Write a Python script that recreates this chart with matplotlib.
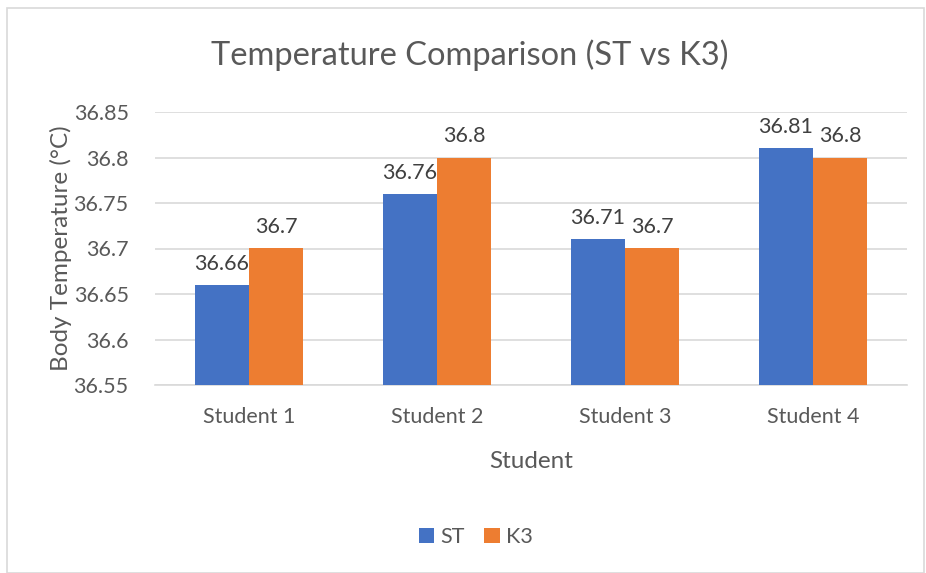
import matplotlib
matplotlib.use("Agg")
import matplotlib.pyplot as plt
from matplotlib.patches import Rectangle
import numpy as np

plt.rcParams['font.family'] = ['Lato', 'DejaVu Sans']

categories = ["Student 1", "Student 2", "Student 3", "Student 4"]
st_values = [36.66, 36.76, 36.71, 36.81]
k3_values = [36.7, 36.8, 36.7, 36.8]
st_labels = ["36.66", "36.76", "36.71", "36.81"]
k3_labels = ["36.7", "36.8", "36.7", "36.8"]
yticks = [36.55, 36.6, 36.65, 36.7, 36.75, 36.8, 36.85]
ytick_labels = ["36.55", "36.6", "36.65", "36.7", "36.75", "36.8", "36.85"]

W, H = 926, 573
fig = plt.figure(figsize=(W/100, H/100), dpi=100)
fig.patch.set_facecolor("white")
fig.patches.append(Rectangle((7/W, 0), (W-9)/W, (H-8)/H, transform=fig.transFigure,
                             fill=False, edgecolor="#d9d9d9", linewidth=1.2))

ax = fig.add_axes([155/W, (H-385)/H, (907-155)/W, (385-112)/H])
x = np.arange(len(categories))
bw = 0.287
base = 36.55
blue = "#4472C4"
orange = "#ED7D31"
b1 = ax.bar(x - bw/2, np.array(st_values) - base, bw, bottom=base, color=blue, label="ST", zorder=3)
b2 = ax.bar(x + bw/2, np.array(k3_values) - base, bw, bottom=base, color=orange, label="K3", zorder=3)

for xi, v, lab in zip(x, st_values, st_labels):
    ax.annotate(lab, (xi - bw/2, v), xytext=(0, 8), textcoords="offset points",
                ha="center", va="bottom", fontsize=15.5, color="#404040")
for xi, v, lab in zip(x, k3_values, k3_labels):
    ax.annotate(lab, (xi + bw/2, v), xytext=(0, 8), textcoords="offset points",
                ha="center", va="bottom", fontsize=15.5, color="#404040")

ax.set_xlim(-0.5, 3.5)
ax.set_ylim(36.55, 36.85)
ax.set_yticks(yticks)
ax.set_yticklabels(ytick_labels)
ax.set_xticks(x)
ax.set_xticklabels(categories)
ax.tick_params(axis='both', length=0, labelsize=15.5, labelcolor="#595959")
ax.tick_params(axis='x', pad=16)
ax.tick_params(axis='y', pad=19)
ax.grid(axis='y', color="#d9d9d9", linewidth=1.2, zorder=0)
for s in ["top", "right", "left"]:
    ax.spines[s].set_visible(False)
ax.spines["bottom"].set_color("#d9d9d9")
ax.spines["bottom"].set_linewidth(1.2)

ax.set_xlabel("Student", fontsize=17.5, color="#595959", labelpad=17)
ax.set_ylabel("Body Temperature (°C)", fontsize=17.5, color="#595959", labelpad=1)

fig.text(470/W, (H-55)/H, "Temperature Comparison (ST vs K3)", ha="center", va="center",
         fontsize=23.5, color="#595959")

leg = fig.legend(handles=[b1, b2], labels=["ST", "K3"], loc="center", bbox_to_anchor=(476/W, (H-537)/H),
                 ncol=2, frameon=False, fontsize=15.5, handlelength=0.7, handleheight=0.7,
                 columnspacing=0.9, handletextpad=0.3)
for t in leg.get_texts():
    t.set_color("#595959")

fig.savefig("out.png", dpi=100)
